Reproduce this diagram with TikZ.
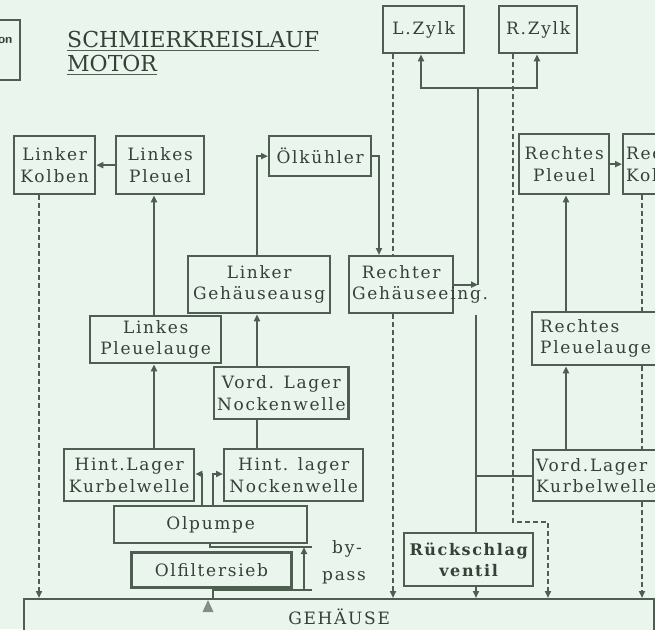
\documentclass[tikz,border=0pt]{standalone}
\usepackage{fontspec}
\usetikzlibrary{arrows.meta}
\definecolor{bg}{RGB}{234,245,238}
\definecolor{ink}{RGB}{78,94,80}
\definecolor{txt}{RGB}{52,66,54}
\newfontfamily\boxfam{DejaVu Serif}[LetterSpace=10]
\newfontfamily\titlefam{DejaVu Serif}
\newcommand\boxfont{\boxfam\fontsize{17}{21.5}\selectfont}
\begin{document}
\begin{tikzpicture}[x=1pt,y=-1pt,
  box/.style={draw=ink, line width=2.3pt, fill=bg, inner sep=3pt, font=\boxfont, text=txt, align=center, anchor=north west},
  conn/.style={draw=ink, line width=1.8pt},
  arr/.style={conn, -{Triangle[length=7pt,width=6pt]}},
  dsh/.style={draw=ink, line width=2.2pt, dash pattern=on 5pt off 3pt},
  dsharr/.style={dsh, -{Triangle[length=7pt,width=6pt]}},
]
\fill[bg] (0,0) rectangle (655,629);
\useasboundingbox (0,0) rectangle (655,629);

% column / helper coordinates
\coordinate (c39) at (39,0);
\coordinate (c154) at (154,0);
\coordinate (c257) at (257,0);
\coordinate (c304) at (304,0);
\coordinate (c312) at (312,0);
\coordinate (c379) at (379,0);
\coordinate (c393) at (393,0);
\coordinate (c421) at (421,0);
\coordinate (c513) at (513,0);
\coordinate (c537) at (537,0);
\coordinate (c566) at (566,0);
\coordinate (c642) at (642,0);
\coordinate (top) at (478,88);
\coordinate (low) at (476,315);
\coordinate (bend) at (548,522);
\coordinate (p1) at (202,474);
\coordinate (p2) at (213,474);
\coordinate (ftop) at (210,547);
\coordinate (fbot) at (213,590);

% top-left partial box and title
\draw[ink, line width=2.3pt] (-5,20) rectangle (20,80);
\node[anchor=base east, text=txt, font=\sffamily\bfseries\fontsize{13}{14}\selectfont] (on) at (16,43) {on};
\node[anchor=base west, inner sep=0pt, text=txt, font=\titlefam\fontsize{22}{26}\selectfont] (t1) at (67,47) {SCHMIERKREISLAUF};
\node[anchor=base west, inner sep=0pt, text=txt, font=\titlefam\fontsize{22}{26}\selectfont] (t2) at (67,71) {MOTOR};
\draw[ink, line width=1.6pt] ([yshift=-3.5pt]t1.base west) -- ([yshift=-3.5pt]t1.base east);
\draw[ink, line width=1.6pt] ([yshift=-3.5pt]t2.base west) -- ([yshift=-3.5pt]t2.base east);

% boxes
\node[box, minimum width=81pt, minimum height=47pt] (LZ) at (382,5) {L.Zylk};
\node[box, minimum width=78pt, minimum height=47pt] (RZ) at (498,5) {R.Zylk};
\node[box, minimum width=81pt, minimum height=58pt] (LK) at (13,135) {Linker\\Kolben};
\node[box, minimum width=88pt, minimum height=58pt] (LP) at (115,135) {Linkes\\Pleuel};
\node[box, minimum width=102pt, minimum height=40pt] (OK) at (268,135) {Ölkühler};
\node[box, minimum width=90pt, minimum height=60pt] (RP) at (518,133) {Rechtes\\Pleuel};
\node[box, text width=84pt, align=left, minimum height=60pt] (RK) at (622,133) {Rechter\\Kolben};
\node[box, minimum width=142pt, minimum height=57pt] (LGA) at (187,255) {Linker\\Gehäuseausg};
\node[box, text width=98pt, minimum height=57pt] (RGE) at (348,255) {Rechter\\Gehäuseeing.};
\node[box, minimum width=131pt, minimum height=47pt] (LPA) at (89,315) {Linkes\\Pleuelauge};
\node[box, text width=154pt, inner xsep=8pt, align=left, minimum height=53pt] (RPA) at (531,311) {Rechtes\\Pleuelauge};
\node[box, minimum width=134pt, minimum height=52pt] (VLN) at (213,366) {Vord. Lager\\Nockenwelle};
\node[box, minimum width=130pt, minimum height=52pt] (HLK) at (63,448) {Hint.Lager\\Kurbelwelle};
\node[box, minimum width=139pt, minimum height=52pt] (HLN) at (223,448) {Hint. lager\\Nockenwelle};
\node[box, text width=164pt, align=left, minimum height=51pt] (VLK) at (532,449) {Vord.Lager\\Kurbelwelle};
\node[box, minimum width=193pt, minimum height=37pt] (OP) at (113,505) {Olpumpe};
\node[box, line width=2.8pt, minimum width=160pt, minimum height=35pt] (OF) at (130,551) {Olfiltersieb};
\node[box, minimum width=129pt, minimum height=53pt, font=\boxfam\bfseries\fontsize{16}{21}\selectfont] (RV) at (403,532) {Rückschlag\\ventil};
\node[box, minimum width=630pt, minimum height=36pt] (GH) at (23,598) {GEHÄUSE};

% by-pass label
\node[anchor=base west, inner sep=0pt, text=txt, font=\boxfont] (by) at (332,553) {by-};
\node[anchor=base west, inner sep=0pt, text=txt, font=\boxfont] (pass) at (322,580) {pass};

% solid connectors
\draw[arr] (LP) -- (LK);
\draw[arr] (LPA.north -| c154) -- (LP.south -| c154);
\draw[arr] (HLK.north -| c154) -- (LPA.south -| c154);
\draw[conn] (HLN.north -| c257) -- (VLN.south -| c257);
\draw[arr] (VLN.north -| c257) -- (LGA.south -| c257);
\draw[arr] (LGA.north -| c257) |- (OK.west);
\draw[arr] (OK.east) -| (RGE.north -| c379);
\draw[arr] (RGE.east) -- (RGE.east -| top);
\draw[conn] (RGE.east -| top) -- (top);
\draw[arr] (top) -| (LZ.south -| c421);
\draw[arr] (top) -| (RZ.south -| c537);
\draw[conn] (low) -- (RV.north -| low);
\draw[conn] (VLK.west) -- (VLK.west -| low);
\draw[arr] (RV.south -| low) -- (GH.north -| low);
\draw[arr] (RP) -- (RK);
\draw[arr] (RPA.north -| c566) -- (RP.south -| c566);
\draw[arr] (VLK.north -| c566) -- (RPA.south -| c566);
\draw[arr] (OP.north -| p1) -- (p1) -- (HLK.east |- p1);
\draw[arr] (OP.north -| p2) -- (p2) -- (HLN.west |- p2);
\draw[conn] (OP.south -| ftop) -- (ftop) -- (ftop -| c312);
\draw[conn] (GH.north -| fbot) -- (fbot) -- (fbot -| c312);
\draw[arr] (fbot -| c304) -- (ftop -| c304);
\fill[ink!70] (202.5,612) -- (213.5,612) -- (208,600) -- cycle;

% dashed return lines
\draw[dsharr] (LK.south -| c39) -- (GH.north -| c39);
\draw[dsh] (LZ.south -| c393) -- (RGE.north -| c393);
\draw[dsharr] (RGE.south -| c393) -- (GH.north -| c393);
\draw[dsharr] (RZ.south -| c513) |- (bend) -- (GH.north -| bend);
\draw[dsh] (RK.south -| c642) -- (RPA.north -| c642);
\draw[dsh] (RPA.south -| c642) -- (VLK.north -| c642);
\draw[dsharr] (VLK.south -| c642) -- (GH.north -| c642);
\end{tikzpicture}
\end{document}
